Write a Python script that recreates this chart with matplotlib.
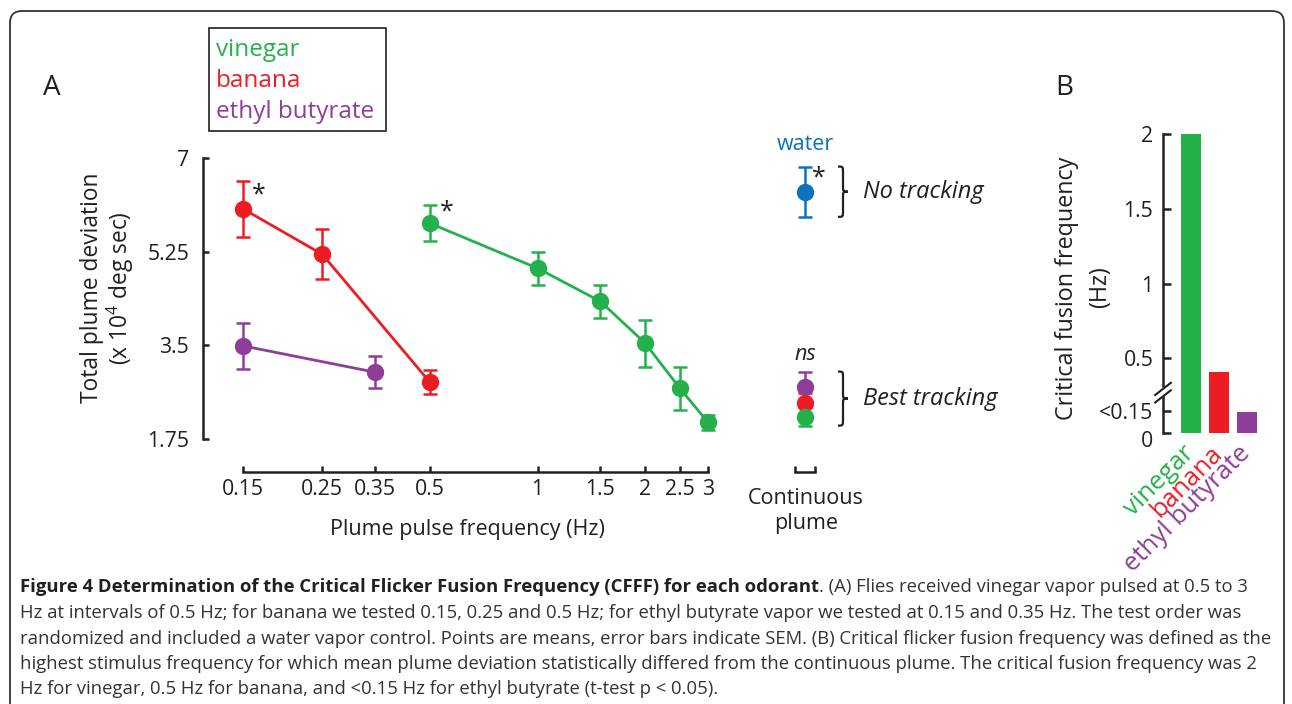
import numpy as np
import matplotlib
matplotlib.use("Agg")
import matplotlib.pyplot as plt
from matplotlib.path import Path
from matplotlib.patches import PathPatch, Rectangle, FancyBboxPatch
from matplotlib.transforms import ScaledTranslation

# ---------------- data ----------------
vinegar_freq = [0.5, 1, 1.5, 2, 2.5, 3]
vinegar_mean = [5.78, 4.94, 4.32, 3.54, 2.70, 2.06]
vinegar_sem = [0.34, 0.31, 0.30, 0.44, 0.40, 0.14]

banana_freq = [0.15, 0.25, 0.5]
banana_mean = [6.05, 5.20, 2.81]
banana_sem = [0.52, 0.47, 0.22]

ethyl_freq = [0.15, 0.35]
ethyl_mean = [3.49, 3.00]
ethyl_sem = [0.43, 0.30]

# continuous plume (mean, sem)
cont_names = ["ethyl butyrate", "banana", "vinegar"]
cont_mean = [2.73, 2.42, 2.17]
cont_sem = [0.28, 0.19, 0.17]
water_mean = 6.37
water_sem = 0.47

x_ticks = [0.15, 0.25, 0.35, 0.5, 1, 1.5, 2, 2.5, 3]
x_ticklabels = ["0.15", "0.25", "0.35", "0.5", "1", "1.5", "2", "2.5", "3"]
y_ticks = [1.75, 3.5, 5.25, 7]
y_ticklabels = ["1.75", "3.5", "5.25", "7"]

# panel B
odorants = ["vinegar", "banana", "ethyl butyrate"]
cfff = [2.0, 0.41, 0.14]
b_ticks = [0, 0.15, 0.5, 1, 1.5, 2]
b_ticklabels = ["0", "<0.15", "0.5", "1", "1.5", "2"]

GREEN = "#24B14C"
RED = "#ED1C24"
PURPLE = "#8E3D98"
BLUE = "#0B72BD"
DARK = "#231F20"
cont_colors = [PURPLE, RED, GREEN]

caption_bold = "Figure 4 Determination of the Critical Flicker Fusion Frequency (CFFF) for each odorant"
caption_lines = [
    ". (A) Flies received vinegar vapor pulsed at 0.5 to 3",
    "Hz at intervals of 0.5 Hz; for banana we tested 0.15, 0.25 and 0.5 Hz; for ethyl butyrate vapor we tested at 0.15 and 0.35 Hz. The test order was",
    "randomized and included a water vapor control. Points are means, error bars indicate SEM. (B) Critical flicker fusion frequency was defined as the",
    "highest stimulus frequency for which mean plume deviation statistically differed from the continuous plume. The critical fusion frequency was 2",
    "Hz for vinegar, 0.5 Hz for banana, and <0.15 Hz for ethyl butyrate (t-test p < 0.05).",
]

# ---------------- style ----------------
plt.rcParams["font.family"] = ["Open Sans", "DejaVu Sans"]
plt.rcParams["mathtext.fontset"] = "custom"
plt.rcParams["mathtext.rm"] = "Open Sans"
plt.rcParams["text.color"] = DARK
plt.rcParams["axes.labelcolor"] = DARK
plt.rcParams["xtick.color"] = DARK
plt.rcParams["ytick.color"] = DARK

W, H = 1292, 704
fig = plt.figure(figsize=(W / 100, H / 100), dpi=100)


def rect(x0, y0, x1, y1):
    """pixel box (top-left origin) -> figure fraction rect"""
    return [x0 / W, 1 - y1 / H, (x1 - x0) / W, (y1 - y0) / H]


TICK_FS = 15.3
LABEL_FS = 15.5
LW = 1.8
MS = 11.5

# ---------------- panel A ----------------
ax = fig.add_axes(rect(203, 158, 720, 439))
ax.set_xscale("log")
ax.set_xlim(0.1159, 3.24)
ax.set_ylim(1.75, 7)
for s in ["top", "right"]:
    ax.spines[s].set_visible(False)
ax.spines["left"].set_linewidth(LW)
ax.spines["bottom"].set_linewidth(LW)
ax.spines["bottom"].set_position(("outward", 23.5))
ax.spines["bottom"].set_bounds(0.15, 3)
ax.spines["left"].set_color(DARK)
ax.spines["bottom"].set_color(DARK)
ax.set_xticks(x_ticks)
ax.set_xticklabels(x_ticklabels)
ax.xaxis.set_minor_locator(matplotlib.ticker.NullLocator())
ax.set_yticks(y_ticks)
ax.set_yticklabels(y_ticklabels)
ax.tick_params(axis="both", direction="in", length=4.5, width=LW, labelsize=TICK_FS)
ax.tick_params(axis="y", pad=10)
ax.tick_params(axis="x", pad=5)

ebkw = dict(fmt="o", ms=MS, lw=2.0, elinewidth=1.8, capsize=4.8, capthick=1.8, clip_on=False)
for fr, m, se, c in [(ethyl_freq, ethyl_mean, ethyl_sem, PURPLE),
                     (banana_freq, banana_mean, banana_sem, RED),
                     (vinegar_freq, vinegar_mean, vinegar_sem, GREEN)]:
    ax.errorbar(fr, m, yerr=se, color=c, ls="-", **ebkw)

star_kw = dict(textcoords="offset points", fontsize=18, ha="center", va="center", color=DARK)
ax.annotate("*", xy=(banana_freq[0], banana_mean[0]), xytext=(11, 10), **star_kw)
ax.annotate("*", xy=(vinegar_freq[0], vinegar_mean[0]), xytext=(12, 8), **star_kw)

ax.set_xlabel("Plume pulse frequency (Hz)", fontsize=LABEL_FS)
ax.xaxis.set_label_coords((467 - 203) / 517, -(529 - 439) / 281)
ax.xaxis.label.set_va("center")
ax.set_ylabel("Total plume deviation\n(x 10$^4$ deg sec)", fontsize=16.4, linespacing=1.0)
ax.yaxis.set_label_coords((108 - 203) / 517, (439 - 288) / 281)
ax.yaxis.label.set_va("center")

# ---------------- continuous plume ----------------
ax2 = fig.add_axes(rect(780, 158, 830, 439))
ax2.set_xlim(0, 1)
ax2.set_ylim(1.75, 7)
ax2.patch.set_visible(False)
for s in ["top", "right", "left"]:
    ax2.spines[s].set_visible(False)
ax2.spines["bottom"].set_position(("outward", 23.5))
ax2.spines["bottom"].set_bounds(0.3, 0.7)
ax2.spines["bottom"].set_linewidth(LW)
ax2.spines["bottom"].set_color(DARK)
ax2.set_yticks([])
ax2.set_xticks([0.3, 0.7])
ax2.set_xticklabels(["", ""])
ax2.tick_params(axis="x", direction="in", length=4.5, width=LW)
ax2.set_xlabel("Continuous\nplume", fontsize=LABEL_FS, linespacing=1.25)
ax2.xaxis.set_label_coords(0.52, -(511 - 439) / 281)
ax2.xaxis.label.set_va("center")

for m, se, c in zip(cont_mean, cont_sem, cont_colors):
    ax2.errorbar([0.5], [m], yerr=[se], color=c, **ebkw)
ax2.errorbar([0.5], [water_mean], yerr=[water_sem], color=BLUE, **ebkw)
ax2.annotate("*", xy=(0.5, water_mean), xytext=(10, 10), **star_kw)
ax2.annotate("water", xy=(0.5, water_mean), xytext=(0, 34), textcoords="offset points",
             ha="center", va="center", fontsize=LABEL_FS, color=BLUE)
ax2.annotate("ns", xy=(0.5, cont_mean[0]), xytext=(0, 23), textcoords="offset points",
             ha="center", va="center", fontsize=LABEL_FS, style="italic", color=DARK)


def brace(a, x0, w, y0, y1, **kw):
    xm = x0 + w / 2
    ym = (y0 + y1) / 2
    r = (y1 - y0) * 0.12
    verts = [(x0, y1),
             (xm, y1), (xm, y1), (xm, y1 - r),
             (xm, ym + r),
             (xm, ym), (xm, ym), (x0 + w, ym),
             (xm, ym), (xm, ym), (xm, ym - r),
             (xm, y0 + r),
             (xm, y0), (xm, y0), (x0, y0)]
    codes = [Path.MOVETO] + [Path.CURVE4] * 3 + [Path.LINETO] + [Path.CURVE4] * 6 + \
            [Path.LINETO] + [Path.CURVE4] * 3
    a.add_patch(PathPatch(Path(verts, codes), fill=False, clip_on=False, **kw))


bx0, bw = 1.16, 0.2
brace(ax2, bx0, bw, water_mean - water_sem, water_mean + water_sem, lw=1.6, color=DARK)
lo = min(m - s for m, s in zip(cont_mean, cont_sem))
hi = max(m + s for m, s in zip(cont_mean, cont_sem))
brace(ax2, bx0, bw, lo, hi, lw=1.6, color=DARK)
ax2.text(1.66, water_mean, "No tracking", style="italic", fontsize=17, va="center", ha="left",
         clip_on=False)
ax2.text(1.66, (lo + hi) / 2, "Best tracking", style="italic", fontsize=17, va="center",
         ha="left", clip_on=False)

# ---------------- legend box ----------------
fig.patches.append(Rectangle((209 / W, 1 - 131 / H), (386 - 209) / W, (131 - 28) / H,
                             transform=fig.transFigure, fill=False, lw=1.2, ec=DARK))
for txt, c, yy in [("vinegar", GREEN, 50), ("banana", RED, 81), ("ethyl butyrate", PURPLE, 112)]:
    fig.text(216 / W, 1 - yy / H, txt, color=c, fontsize=17.5, va="center", ha="left")

fig.text(52 / W, 1 - 88 / H, "A", fontsize=20, ha="center", va="center")
fig.text(1064 / W, 1 - 88 / H, "B", fontsize=20, ha="center", va="center")

# ---------------- panel B ----------------
axb = fig.add_axes(rect(1163, 134, 1265, 433))
xb = np.arange(len(odorants))
axb.set_xlim(-1.0, -1.0 + 102 / 28)
axb.set_ylim(0, 2)
axb.bar(xb, cfff, width=0.72, color=[GREEN, RED, PURPLE])
for s in ["top", "right", "bottom"]:
    axb.spines[s].set_visible(False)
axb.spines["left"].set_linewidth(LW)
axb.spines["left"].set_color(DARK)
axb.set_yticks(b_ticks)
axb.set_yticklabels(b_ticklabels)
axb.tick_params(axis="y", direction="in", length=5.5, width=LW, labelsize=TICK_FS, pad=7)
# the "0" label sits a little below its tick in the original
zero_lab = axb.get_yticklabels()[0]
zero_lab.set_transform(zero_lab.get_transform() + ScaledTranslation(0, -4.5 / 72, fig.dpi_scale_trans))
axb.set_xticks(xb)
axb.set_xticklabels(odorants, rotation=45, ha="right", va="center", rotation_mode="anchor",
                    fontsize=18.5)
axb.tick_params(axis="x", length=0, pad=12)
for lab, c in zip(axb.get_xticklabels(), [GREEN, RED, PURPLE]):
    lab.set_color(c)
axb.set_ylabel("Critical fusion frequency", fontsize=16.8)
axb.yaxis.set_label_coords((1067 - 1163) / 102, 0.485)
axb.yaxis.label.set_va("center")
axb.text((1100 - 1163) / 102, 0.488, "(Hz)", transform=axb.transAxes, rotation=90,
         fontsize=16.8, ha="center", va="center", color=DARK)

# axis break marks
ybrk = 0.27
tr = axb.get_yaxis_transform()
axb.fill([-0.09, 0.09, 0.09, -0.09], [ybrk - 0.045, ybrk + 0.005, ybrk + 0.055, ybrk + 0.005],
         transform=tr, color="white", zorder=5, clip_on=False)
for off in (-0.025, 0.025):
    axb.plot([-0.085, 0.085], [ybrk - 0.045 + off, ybrk + 0.045 + off], transform=tr,
             color=DARK, lw=1.5, zorder=6, clip_on=False, solid_capstyle="butt")

# ---------------- frame + caption ----------------
frame = FancyBboxPatch((10 / 100, (H - 760) / 100), (1284 - 10) / 100, (760 - 11) / 100,
                       boxstyle="round,pad=0,rounding_size=0.12",
                       transform=fig.dpi_scale_trans, fill=False, lw=1.3, ec="#333333")
fig.patches.append(frame)

baselines = [591.5, 617.5, 643.5, 669, 694.5]
CAP_FS = 13.3
tb = fig.text(20 / W, 1 - baselines[0] / H, caption_bold, fontsize=CAP_FS, fontweight="bold",
              va="baseline", ha="left", color=DARK)
fig.canvas.draw()
bb = tb.get_window_extent()
fig.text(bb.x1 / W, 1 - baselines[0] / H, caption_lines[0], fontsize=CAP_FS, va="baseline",
         ha="left", color="#333333")
for line, yb in zip(caption_lines[1:], baselines[1:]):
    fig.text(20 / W, 1 - yb / H, line, fontsize=CAP_FS, va="baseline", ha="left", color="#333333")

fig.savefig("out.png", dpi=100)
